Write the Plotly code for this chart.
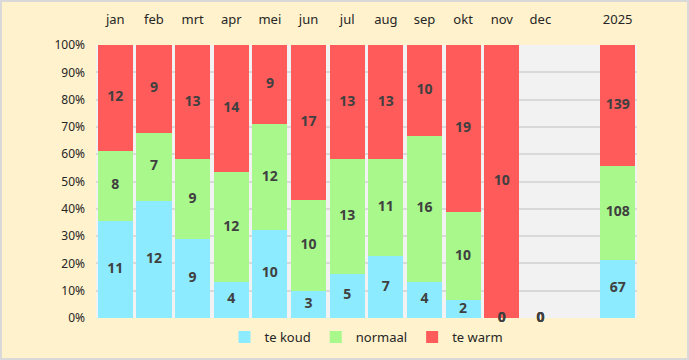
import plotly.graph_objects as go

categories = ["jan", "feb", "mrt", "apr", "mei", "jun", "jul", "aug", "sep", "okt", "nov", "dec", " ", "2025"]
te_koud = [11, 12, 9, 4, 10, 3, 5, 7, 4, 2, 0, 0, None, 67]
normaal = [8, 7, 9, 12, 12, 10, 13, 11, 16, 10, 0, 0, None, 108]
te_warm = [12, 9, 13, 14, 9, 17, 13, 13, 10, 19, 10, 0, None, 139]
y_ticks = [i / 10 for i in range(11)]

colors = {"te koud": "#8CEBFF", "normaal": "#A8F88C", "te warm": "#FF5B5B"}
series = {"te koud": te_koud, "normaal": normaal, "te warm": te_warm}

totals = []
for k, n, w in zip(te_koud, normaal, te_warm):
    if k is None:
        totals.append(None)
    else:
        totals.append(k + n + w)

fig = go.Figure()
bottoms = [0.0] * len(categories)
label_x, label_y, label_t = [], [], []
for name, vals in series.items():
    ys = []
    for i, v in enumerate(vals):
        if v is None:
            ys.append(None)
            continue
        t = totals[i]
        frac = v / t if t else 0.0
        ys.append(frac)
        label_x.append(categories[i])
        label_y.append(bottoms[i] + frac / 2)
        label_t.append(str(v))
        bottoms[i] += frac
    fig.add_trace(go.Bar(x=categories, y=ys, name=name, marker=dict(color=colors[name], line=dict(width=0)),
                         hoverinfo="skip"))

fig.add_trace(go.Scatter(x=label_x, y=label_y, text=label_t, mode="text", showlegend=False,
                         textfont=dict(family="Noto Sans", size=14, color="#404040", weight="bold"),
                         cliponaxis=False, hoverinfo="skip"))

L, R, T, B = 96, 52, 45, 42
W, H = 689, 360
pw, ph = W - L - R, H - T - B

fig.update_layout(
    width=W, height=H,
    margin=dict(l=L, r=R, t=T, b=B, autoexpand=False),
    barmode="stack", bargap=0.09,
    paper_bgcolor="#FFF2CC", plot_bgcolor="#F2F2F2",
    font=dict(family="Noto Sans", color="#262626", size=12),
    legend=dict(orientation="h", x=0.5, xanchor="center", y=-0.015, yanchor="top",
                font=dict(size=13, color="#262626"), traceorder="normal", itemwidth=30,
                bgcolor="rgba(0,0,0,0)"),
    xaxis=dict(type="category", categoryorder="array", categoryarray=categories, side="top",
               range=[-0.5, len(categories) - 0.5],
               showgrid=False, zeroline=False, ticks="", tickfont=dict(size=13, color="#262626"),
               ticklabelstandoff=17, automargin=False),
    yaxis=dict(range=[0, 1], tickvals=y_ticks, tickformat=".0%", showgrid=True, gridcolor="#D9D9D9",
               gridwidth=1.5, zeroline=False, ticks="", tickfont=dict(size=12, color="#262626"),
               ticklabelstandoff=10, automargin=False),
    shapes=[dict(type="rect", xref="paper", yref="paper",
                 x0=-L / pw + 1 / pw, x1=1 + R / pw - 1 / pw,
                 y0=-B / ph + 1 / ph, y1=1 + T / ph - 1 / ph,
                 line=dict(color="#D9D9D9", width=2), layer="above")],
)

fig.write_html("out.html", config={"displayModeBar": False},
               post_script="document.body.style.margin='0';")
